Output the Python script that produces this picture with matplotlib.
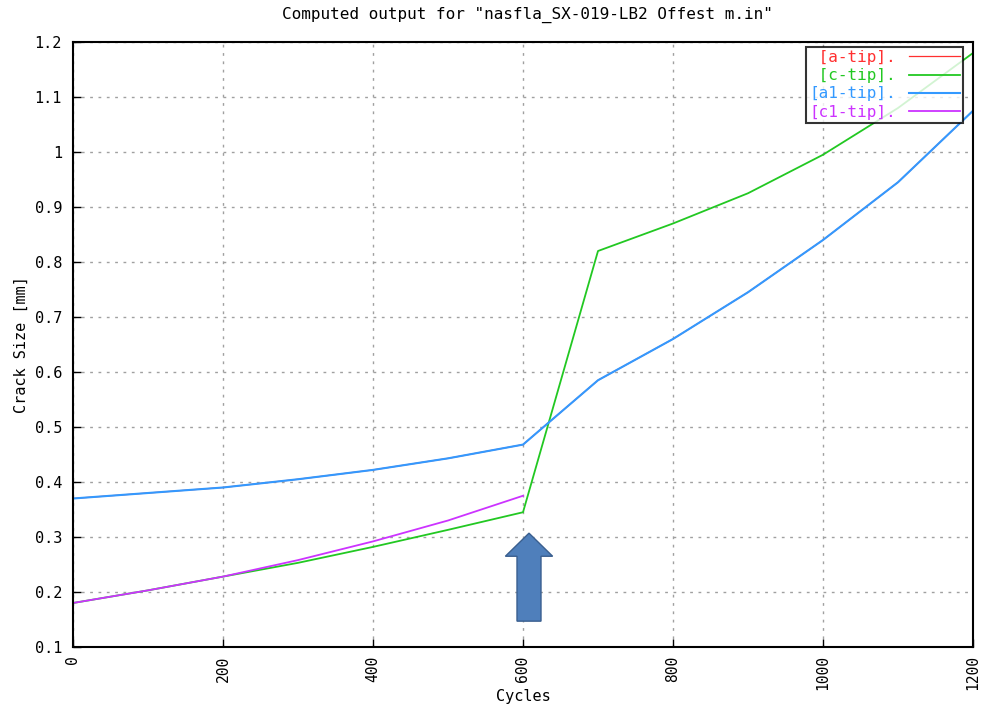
import matplotlib
matplotlib.use("Agg")
import matplotlib.pyplot as plt
from matplotlib.patches import FancyArrow

cycles = [0, 100, 200, 300, 400, 500, 600, 700, 800, 900, 1000, 1100, 1200]
a_tip = [0.370, 0.380, 0.390, 0.405, 0.422, 0.443, 0.468, 0.585, 0.660, 0.745, 0.840, 0.945, 1.075]
c_tip = [0.180, 0.203, 0.228, 0.253, 0.282, 0.313, 0.345, 0.820, 0.870, 0.925, 0.995, 1.080, 1.180]
a1_tip = [0.370, 0.380, 0.390, 0.405, 0.422, 0.443, 0.468, 0.585, 0.660, 0.745, 0.840, 0.945, 1.075]
c1_cycles = [0, 100, 200, 300, 400, 500, 600]
c1_tip = [0.180, 0.203, 0.228, 0.258, 0.292, 0.330, 0.375]
x_ticks = [0, 200, 400, 600, 800, 1000, 1200]
y_ticks = [0.1, 0.2, 0.3, 0.4, 0.5, 0.6, 0.7, 0.8, 0.9, 1.0, 1.1, 1.2]
y_labels = ["0.1", "0.2", "0.3", "0.4", "0.5", "0.6", "0.7", "0.8", "0.9", "1", "1.1", "1.2"]

plt.rcParams['font.family'] = ['DejaVu Sans Mono']
fig = plt.figure(figsize=(9.81, 7.05), dpi=100)
ax = fig.add_axes([73/981, 1-647/705, 900/981, 605/705])

ax.plot(cycles, a_tip, color='#ff3030', lw=0.9, label=' [a-tip].')
ax.plot(cycles, c_tip, color='#22c822', lw=1.3, label=' [c-tip].')
ax.plot(cycles, a1_tip, color='#3399ff', lw=1.5, label='[a1-tip].')
ax.plot(c1_cycles, c1_tip, color='#cc33ff', lw=1.3, label='[c1-tip].')

ax.set_xlim(0, 1200)
ax.set_ylim(0.1, 1.2)
ax.set_xticks(x_ticks)
ax.set_xticklabels([str(v) for v in x_ticks], rotation=90, fontsize=10.5)
ax.set_yticks(y_ticks)
ax.set_yticklabels(y_labels, fontsize=11)
ax.tick_params(direction='in', length=6, width=1, pad=8)
ax.tick_params(axis='x', pad=6)
ax.grid(True, linestyle=(0, (2, 4)), color='#a0a0a0', lw=1)
for s in ax.spines.values():
    s.set_linewidth(1.5)

ax.set_xlabel('Cycles', fontsize=11, labelpad=-1)
ax.set_ylabel('Crack Size [mm]', fontsize=11, labelpad=4)
fig.text(0.538, 0.979, 'Computed output for "nasfla_SX-019-LB2 Offest m.in"',
         ha='center', va='center', fontsize=11.5)

leg = ax.legend(loc='upper right', bbox_to_anchor=(0.989, 0.992), markerfirst=False,
                labelcolor='linecolor', fontsize=11.5, frameon=True, fancybox=False,
                edgecolor='black', handlelength=3.2, borderpad=0.2, labelspacing=0.2,
                handletextpad=0.8, borderaxespad=0.0)
leg.get_frame().set_linewidth(1.5)

arrow = FancyArrow(608, 0.147, 0, 0.16, width=32, head_width=63, head_length=0.042,
                   length_includes_head=True, transform=ax.transData,
                   facecolor='#4f7fbb', edgecolor='#3a5f8f', lw=1, zorder=5)
ax.add_patch(arrow)

fig.savefig('out.png', dpi=100)
